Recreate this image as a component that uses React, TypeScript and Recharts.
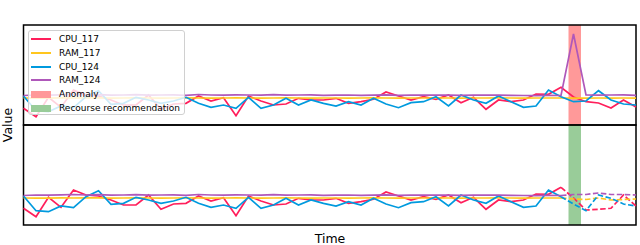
import React from 'react';
import { LineChart, Line, XAxis, YAxis, ReferenceArea } from 'recharts';

const timeIndex = [
  0, 1, 2, 3, 4, 5, 6, 7, 8, 9, 10, 11, 12, 13, 14, 15, 16, 17, 18, 19, 20, 21, 22, 23, 24,
  25, 26, 27, 28, 29, 30, 31, 32, 33, 34, 35, 36, 37, 38, 39, 40, 41, 42, 43, 44, 45, 46, 47, 48, 49,
];

const cpu117 = [
  16.7, 8.3, 27.7, 17.7, 35, 30, 29, 25, 20, 20,
  30, 15.7, 21, 21.7, 29, 24, 27.3, 9.3, 29, 24,
  20, 21, 26.7, 25, 25, 26.7, 21.7, 23.3, 25.7, 33,
  29, 25, 28.3, 25.7, 30, 22.3, 27.7, 15.7, 25, 23.3,
  25, 31, 30.7, 37.7, 28, 23.3, 22, 17, 25, 18,
];
const ram117 = [
  27, 26.8, 26.9, 27.1, 27, 27.2, 27.1, 26.9, 27, 27.1,
  27, 26.9, 27, 27.1, 27, 26.9, 27, 27.1, 27, 26.8,
  27, 27.1, 27, 26.9, 27, 27, 26.9, 27, 27.1, 27,
  26.9, 27, 27, 27.1, 27, 26.9, 27, 27, 27.1, 27,
  26.9, 27, 27, 27, 26.8, 26.9, 27, 26.9, 27, 26.9,
];
const cpu124 = [
  29, 14.3, 13.3, 19, 17.3, 28.3, 34.3, 20.7, 21.7, 27.7,
  25, 21.7, 24, 27.7, 21.7, 17.7, 20, 16.7, 27.7, 16.7,
  20, 26.7, 20, 25, 21.7, 19, 23.3, 20, 26.7, 21,
  17.3, 22.3, 23.3, 28.3, 19, 30, 25, 21.7, 29, 23.3,
  17.7, 19, 35, 28.3, 23.3, 24, 34.3, 25, 21, 20,
];
const ram124 = [
  29.5, 30, 29.8, 30.2, 30.5, 30, 30.3, 29.8, 30, 30.4,
  29.8, 30, 30.2, 29.7, 30.5, 30, 29.8, 30.2, 30, 29.9,
  30.3, 29.8, 30, 30.2, 29.6, 29.8, 30, 29.7, 29.9, 30.1,
  29.7, 29.8, 29.9, 30, 29.8, 29.6, 29.9, 30, 29.8, 29.7,
  29.5, 29.4, 29.6, 29.5, 91, 30, 29.8, 30, 30.2, 29.6,
];

// Recommendation (dashed) continuation in the lower panel, from index 43 onward
const recStart = 43;
const cpu117Rec = [37.7, 27, 15, 15.7, 16.7, 30, 19];
const ram117Rec = [27, 26, 25.5, 27, 25, 25.5, 26];
const cpu124Rec = [28.3, 21, 14.3, 30, 26.7, 21, 19];
const ram124Rec = [29.5, 30.5, 30.5, 32, 30.5, 30.5, 30];

const anomalySpan = [43.6, 44.6];
const recourseSpan = [43.6, 44.6];

const seriesNames = ['CPU_117', 'RAM_117', 'CPU_124', 'RAM_124'];
const seriesColors = ['#ff1f5b', '#ffc61e', '#009ade', '#af58ba'];
const patchNames = ['Anomaly', 'Recourse recommendation'];
const patchColors = ['#ff9999', '#99cc99'];

const topData = timeIndex.map((t, i) => ({
  t,
  cpu117: cpu117[i],
  ram117: ram117[i],
  cpu124: cpu124[i],
  ram124: ram124[i],
}));

const bottomData = timeIndex.map((t, i) => {
  const r = i - recStart;
  return {
    t,
    cpu117: i <= recStart ? cpu117[i] : null,
    ram117: i <= recStart ? ram117[i] : null,
    cpu124: i <= recStart ? cpu124[i] : null,
    ram124: i <= recStart ? ram124[i] : null,
    cpu117r: r >= 0 ? cpu117Rec[r] : null,
    ram117r: r >= 0 ? ram117Rec[r] : null,
    cpu124r: r >= 0 ? cpu124Rec[r] : null,
    ram124r: r >= 0 ? ram124Rec[r] : null,
  };
});

const keys = ['cpu117', 'ram117', 'cpu124', 'ram124'];
const font = '"DejaVu Sans", sans-serif';
const W = 640;
const H = 245;

function Panel({ data, margin, dashed, span, spanColor }: any) {
  return (
    <LineChart width={W} height={H} data={data} margin={margin}>
      <XAxis dataKey="t" type="number" domain={[0, 49]} hide />
      <YAxis type="number" domain={[0, 100]} hide allowDataOverflow />
      {keys.map((k, i) => (
        <Line
          key={k}
          dataKey={k}
          stroke={seriesColors[i]}
          strokeWidth={1.7}
          dot={false}
          isAnimationActive={false}
          connectNulls={false}
        />
      ))}
      {dashed &&
        keys.map((k, i) => (
          <Line
            key={k + 'r'}
            dataKey={k + 'r'}
            stroke={seriesColors[i]}
            strokeWidth={1.7}
            strokeDasharray="5.5 2.5"
            dot={false}
            isAnimationActive={false}
          />
        ))}
      <ReferenceArea x1={span[0]} x2={span[1]} y1={0} y2={100} fill={spanColor} fillOpacity={0.4} stroke="none" />
      <ReferenceArea x1={0} x2={49} y1={0} y2={100} fill="none" stroke="#000" strokeWidth={1.5} />
    </LineChart>
  );
}

export default function App() {
  return (
    <div style={{ position: 'absolute', left: 0, top: 0, width: W, height: H, background: '#fff', fontFamily: font }}>
      <div style={{ position: 'absolute', left: 0, top: 0 }}>
        <Panel data={topData} margin={{ top: 25, right: 4, bottom: 120, left: 23.5 }} span={anomalySpan} spanColor="#ff0000" />
      </div>
      <div style={{ position: 'absolute', left: 0, top: 0 }}>
        <Panel data={bottomData} margin={{ top: 125, right: 4, bottom: 20, left: 23.5 }} dashed span={recourseSpan} spanColor="#008000" />
      </div>
      <div
        style={{
          position: 'absolute',
          left: 28,
          top: 30,
          width: 157,
          height: 85,
          boxSizing: 'border-box',
          background: 'rgba(255,255,255,0.8)',
          border: '1px solid #d0d0d0',
          borderRadius: 3,
          fontSize: 9,
          color: '#000',
        }}
      >
        {seriesNames.map((n, i) => (
          <div key={n} style={{ position: 'absolute', left: 2, top: 2 + i * 13.8, height: 12, display: 'flex', alignItems: 'center' }}>
            <div style={{ width: 20, height: 2, background: seriesColors[i] }} />
            <span style={{ marginLeft: 8 }}>{n}</span>
          </div>
        ))}
        {patchNames.map((n, i) => (
          <div key={n} style={{ position: 'absolute', left: 2, top: 2 + (i + 4) * 13.8, height: 12, display: 'flex', alignItems: 'center' }}>
            <div style={{ width: 20, height: 7, background: patchColors[i] }} />
            <span style={{ marginLeft: 8 }}>{n}</span>
          </div>
        ))}
      </div>
      <div
        style={{
          position: 'absolute',
          left: 7,
          top: 125,
          transform: 'translate(-50%, -50%) rotate(-90deg)',
          fontSize: 12.5,
          whiteSpace: 'nowrap',
        }}
      >
        Value
      </div>
      <div
        style={{
          position: 'absolute',
          left: 330,
          top: 238,
          transform: 'translate(-50%, -50%)',
          fontSize: 12.5,
          whiteSpace: 'nowrap',
        }}
      >
        Time
      </div>
    </div>
  );
}
